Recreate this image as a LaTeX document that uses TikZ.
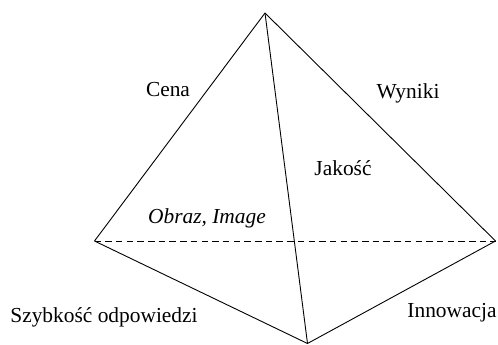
\documentclass[tikz,border=0pt]{standalone}
\usepackage{fontspec}
\setmainfont{Liberation Serif}
\begin{document}
\begin{tikzpicture}[x=1pt,y=-1pt,
  edge/.style={line width=0.9pt, line join=round},
  hidden/.style={line width=0.9pt, dash pattern=on 6.5pt off 4.2pt},
  lbl/.style={anchor=base, inner sep=0pt, font=\fontsize{21.4}{24}\selectfont}]
\useasboundingbox (0,0) rectangle (498,345);
% vertices of the pyramid
\coordinate (top) at (265,13);
\coordinate (left) at (94.5,241);
\coordinate (right) at (495.5,241);
\coordinate (front) at (307.5,343.5);
% edges
\draw[edge] (left) -- (top) -- (right);
\draw[edge] (top) -- (front);
\draw[edge] (left) -- (front) -- (right);
\draw[hidden] (left) -- (right);
% labels
\node[lbl] (cena) at (168,96) {Cena};
\node[lbl] (wyniki) at (408,98.5) {Wyniki};
\node[lbl] (jakosc) at (343,175) {Jakość};
\node[lbl] (obraz) at (207,223) {\itshape Obraz, Image};
\node[lbl] (szyb) at (104,322) {Szybkość odpowiedzi};
\node[lbl] (innow) at (452,317) {Innowacja};
\end{tikzpicture}
\end{document}
